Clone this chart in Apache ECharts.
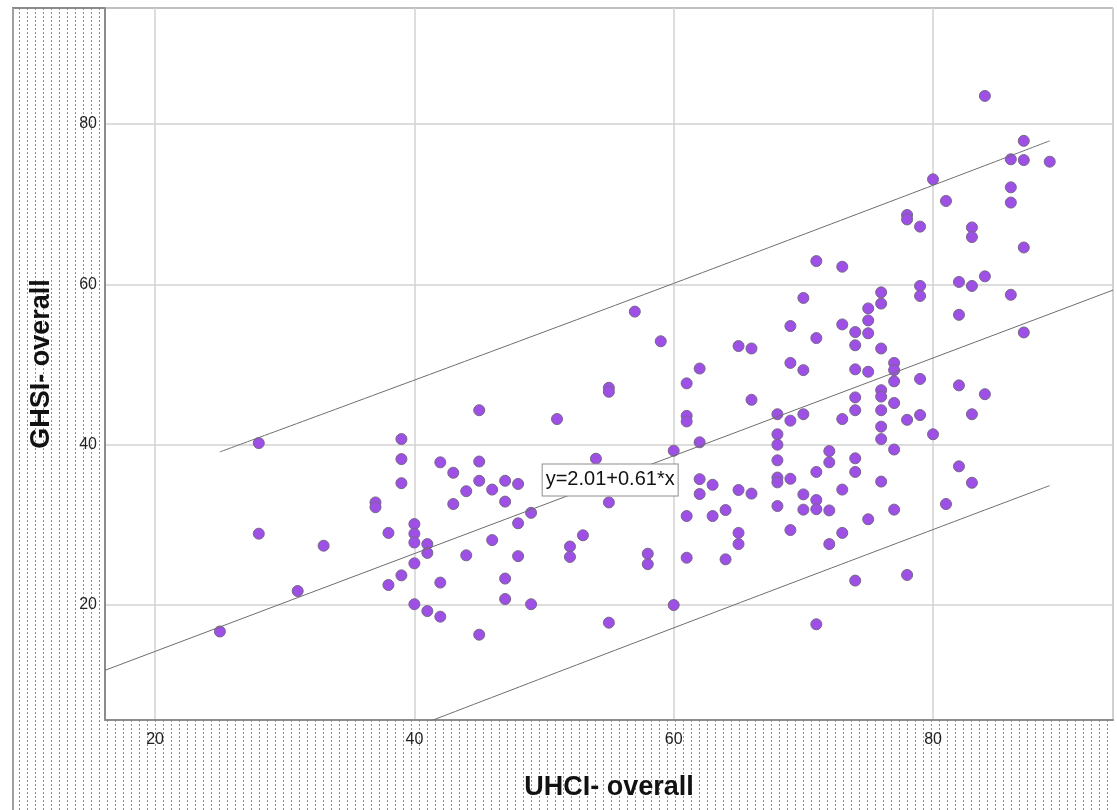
<!DOCTYPE html>
<html>
<head>
<meta charset="utf-8">
<script src="https://cdn.jsdelivr.net/npm/echarts@6/dist/echarts.min.js"></script>
<style>html,body{margin:0;padding:0;background:#fff}#c{width:1117px;height:810px}</style>
</head>
<body>
<div id="c"></div>
<script>
// UHCI value of each column of points, and the GHSI values found at that UHCI value
const uhciColumns = [25,28,31,33,37,38,39,40,41,42,43,44,45,46,47,48,49,51,52,53,54,55,57,58,59,60,
  61,62,63,64,65,66,68,69,70,71,72,73,74,75,76,77,78,79,80,81,82,83,84,86,87,89];
const ghsiByColumn = [
  [16.7],[40.2,28.9],[21.75],[27.4],[32.8,32.2],[29.0,22.5],[40.7,38.2,35.2,23.7],
  [30.1,28.9,27.8,25.2,20.1],[27.6,26.5,19.25],[37.8,22.8,18.55],[36.5,32.6],[34.2,26.2],
  [44.3,37.9,35.5,16.3],[34.4,28.1],[35.5,32.9,23.3,20.75],[35.1,30.2,26.1],[31.5,20.1],
  [43.2],[27.3,26.0],[28.7],[38.25],[47.1,46.6,32.8,17.8],[56.6],[26.4,25.1],[52.9],[39.25,20.0],
  [47.65,43.6,42.9,31.1,25.9],[49.5,40.3,35.7,33.85],[35.0,31.1],[31.85,25.7],[52.3,34.35,29.0,27.6],
  [52.0,45.6,33.9],[43.8,41.3,40.0,38.05,35.9,35.3,32.35],[54.8,50.2,43.0,35.75,29.35],
  [58.3,49.3,43.8,33.8,31.9],[62.9,53.3,36.6,33.1,31.95,17.6],[39.2,37.8,31.8,27.6],
  [62.2,55.0,43.2,34.4,29.0],[54.05,52.4,49.4,45.9,44.3,38.3,36.6,23.05],[57.0,55.5,53.9,49.1,30.7],
  [59.0,57.6,52.0,46.8,46.0,44.3,42.25,40.7,35.4],[50.2,49.3,47.9,45.2,39.4,31.9],
  [68.65,68.1,43.1,23.75],[67.2,59.8,58.55,48.2,43.7],[73.1,41.3],[70.4,32.6],[60.3,56.2,47.4,37.3],
  [67.1,65.9,59.8,43.8,35.25],[83.5,61.0,46.3],[75.6,72.1,70.2,58.7],[77.9,75.5,64.6,54.0],[75.3]
];
// Fit line and interval lines
const fitLine = [[16.14, 11.86], [93.88, 59.28]];
const upperBand = [[25, 39.1], [57, 58.3], [89, 77.9]];
const lowerBand = [[25, -4.6], [57, 15.3], [89, 34.9]];
const fitLabel = 'y=2.01+0.61*x';
const fitLabelAt = [55.1, 35.6];
const xTitle = 'UHCI- overall';
const yTitle = 'GHSI- overall';
const xRange = [16.14, 93.88];
const yRange = [5.66, 94.47];

const points = [];
uhciColumns.forEach((u, i) => ghsiByColumn[i].forEach(g => points.push([u, g])));

const hatch = document.createElement('canvas');
hatch.width = 8; hatch.height = 4;
const hc = hatch.getContext('2d');
hc.fillStyle = '#fff'; hc.fillRect(0, 0, 8, 4);
hc.fillStyle = '#8e8e8e'; hc.fillRect(3, 0, 1, 2);
const hatchFill = { image: hatch, repeat: 'repeat' };

const FONT = '"Liberation Sans", Arial, sans-serif';
const chart = echarts.init(document.getElementById('c'), null, { renderer: 'canvas' });
const tickFmt = v => (Math.abs(v % 20) < 1e-9 ? String(v) : '');

chart.setOption({
  animation: false,
  backgroundColor: '#fff',
  grid: { left: 105, right: 4, top: 8, bottom: 90, show: true, borderColor: '#9a9a9a', borderWidth: 1, backgroundColor: '#fff' },
  xAxis: {
    type: 'value', min: xRange[0], max: xRange[1],
    axisLine: { show: true, lineStyle: { color: '#8c8c8c', width: 2 } },
    axisTick: { show: false },
    splitLine: { show: true, lineStyle: { color: '#d2d2d2', width: 1.5 } },
    axisLabel: { formatter: tickFmt, fontSize: 16, color: '#222', fontFamily: FONT, margin: 12, showMinLabel: false, showMaxLabel: false }
  },
  yAxis: {
    type: 'value', min: yRange[0], max: yRange[1],
    axisLine: { show: true, lineStyle: { color: '#8c8c8c', width: 2 } },
    axisTick: { show: false },
    splitLine: { show: true, lineStyle: { color: '#d2d2d2', width: 1.5 } },
    axisLabel: { formatter: tickFmt, fontSize: 16, color: '#222', fontFamily: FONT, margin: 8, showMinLabel: false, showMaxLabel: false }
  },
  graphic: [
    { type: 'rect', silent: true, shape: { x: 13, y: 9, width: 92, height: 801 }, style: { fill: hatchFill } },
    { type: 'rect', silent: true, shape: { x: 105, y: 721, width: 1008, height: 89 }, style: { fill: hatchFill } },
    { type: 'line', silent: true, shape: { x1: 12, y1: 8, x2: 1113, y2: 8 }, style: { stroke: '#8a8a8a', lineWidth: 2 } },
    { type: 'line', silent: true, shape: { x1: 13, y1: 8, x2: 13, y2: 810 }, style: { stroke: '#a0a0a0', lineWidth: 2 } },
    { type: 'text', silent: true, x: 609, y: 788, style: { text: xTitle, font: 'bold 27px ' + FONT, fill: '#111', textAlign: 'center', textVerticalAlign: 'middle' } },
    { type: 'text', silent: true, x: 42, y: 364, rotation: Math.PI / 2, style: { text: yTitle, font: 'bold 27px ' + FONT, fill: '#111', textAlign: 'center', textVerticalAlign: 'middle' } }
  ],
  series: [
    {
      type: 'scatter', data: points, symbolSize: 11, z: 2,
      itemStyle: { color: '#9e4fe6', borderColor: '#77668a', borderWidth: 1, opacity: 1 }
    },
    { type: 'line', data: upperBand, showSymbol: false, smooth: true, z: 3, silent: true, lineStyle: { color: '#6e6e6e', width: 1 } },
    { type: 'line', data: lowerBand, showSymbol: false, smooth: true, z: 3, silent: true, lineStyle: { color: '#6e6e6e', width: 1 } },
    {
      type: 'line', data: fitLine, showSymbol: false, z: 4, silent: true, lineStyle: { color: '#6e6e6e', width: 1 },
      markPoint: {
        silent: true, symbol: 'rect', symbolSize: 1, itemStyle: { color: 'rgba(0,0,0,0)' },
        data: [{ coord: fitLabelAt }],
        label: {
          show: true, position: 'inside', formatter: fitLabel, fontSize: 20, color: '#111', fontFamily: FONT,
          backgroundColor: '#fff', borderColor: '#8c8c8c', borderWidth: 1, padding: [6, 3, 5, 3]
        }
      }
    }
  ]
});
</script>
</body>
</html>
